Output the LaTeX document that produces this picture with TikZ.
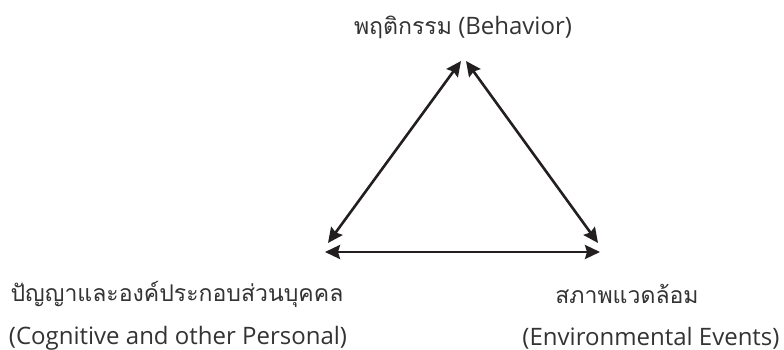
\documentclass[tikz,border=0pt]{standalone}
\usepackage{fontspec}
\setmainfont{Open Sans}
\newfontfamily\thaifont[Script=Thai,Scale=0.96]{Loma}
\usetikzlibrary{arrows.meta}
\definecolor{txt}{HTML}{333333}
\definecolor{ln}{HTML}{231F20}
\tikzset{
  lbl/.style={inner sep=0pt, text=txt, font=\fontsize{24}{28}\selectfont},
  link/.style={draw=ln, line width=2.6pt, {Stealth[length=15pt,width=14pt,inset=2pt]}-{Stealth[length=15pt,width=14pt,inset=2pt]}}
}
\begin{document}
\begin{tikzpicture}[x=1pt,y=1pt]
\useasboundingbox (0,0) rectangle (784,350);
\node[lbl] (beh) at (463,323) {{\thaifont พฤติกรรม} (Behavior)};
\node[lbl] (cogth) at (177,56) {\thaifont ปัญญาและองค์ประกอบส่วนบุคคล};
\node[lbl] (cogen) at (178,12) {(Cognitive and other Personal)};
\node[lbl] (envth) at (627,56) {\thaifont สภาพแวดล้อม};
\node[lbl] (enven) at (651,12) {(Environmental Events)};
\coordinate (topL) at (461,289);
\coordinate (topR) at (466,289);
\coordinate (botL) at (328,107);
\coordinate (botR) at (598,107);
\coordinate (horL) at (325,98);
\coordinate (horR) at (600,98);
\draw[link] (botL) -- (topL);
\draw[link] (botR) -- (topR);
\draw[link] (horL) -- (horR);
\end{tikzpicture}
\end{document}
